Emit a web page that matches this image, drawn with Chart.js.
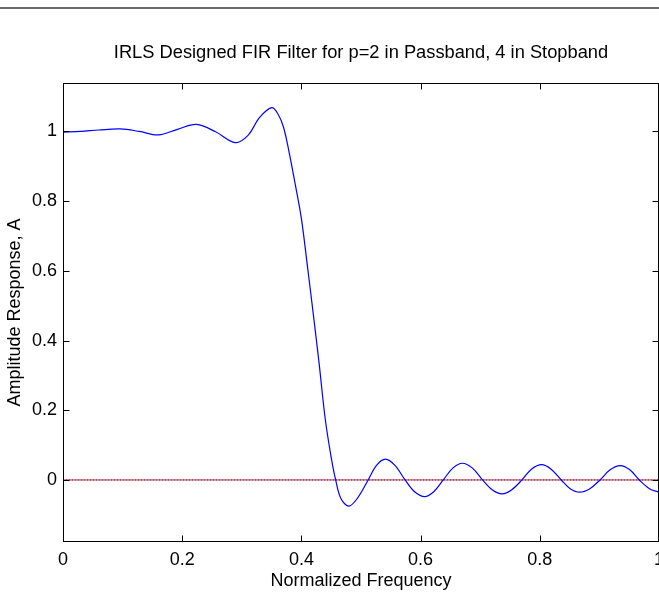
<!DOCTYPE html>
<html>
<head>
<meta charset="utf-8">
<title>IRLS Designed FIR Filter</title>
<script src="https://cdn.jsdelivr.net/npm/chart.js@4/dist/chart.umd.min.js"></script>
<style>
  html, body { margin: 0; padding: 0; background: #fff; overflow: hidden; }
  #wrap { position: relative; width: 659px; height: 592px; overflow: hidden; }
  #plot { position: absolute; left: 0; top: 0; }
  #rule { position: absolute; left: 0; top: 7px; width: 659px; height: 0; border-top: 2px solid #6a6a6a; }
</style>
</head>
<body>
<div id="wrap">
  <canvas id="plot" width="720" height="592"></canvas>
  <div id="rule"></div>
</div>
<script>
/* ------------------------------------------------------------
   Chart data
------------------------------------------------------------ */
var TITLE   = 'IRLS Designed FIR Filter for p=2 in Passband, 4 in Stopband';
var X_TITLE = 'Normalized Frequency';
var Y_TITLE = 'Amplitude Response, A';

// normalized frequency (0..1)
var freq = [
  0.000, 0.030, 0.060, 0.096, 0.128, 0.160, 0.192, 0.224, 0.256, 0.289,
  0.310, 0.330, 0.350, 0.360, 0.370, 0.380, 0.390, 0.400, 0.410, 0.420,
  0.430, 0.440, 0.450, 0.4575, 0.4665, 0.480, 0.495, 0.512, 0.526, 0.541,
  0.557, 0.574, 0.590, 0.607, 0.622, 0.638, 0.654, 0.670, 0.687, 0.704,
  0.720, 0.737, 0.753, 0.770, 0.786, 0.803, 0.819, 0.836, 0.851, 0.867,
  0.884, 0.901, 0.918, 0.935, 0.951, 0.967, 0.984, 1.000
];

// amplitude response A
var amp = [
  0.998, 1.000, 1.004, 1.007, 1.000, 0.990, 1.006, 1.020, 0.999, 0.968,
  0.988, 1.040, 1.068, 1.052, 1.012, 0.935, 0.845, 0.750, 0.615, 0.475,
  0.330, 0.175, 0.065, 0.000, -0.054, -0.075, -0.050, 0.000, 0.042, 0.060,
  0.042, 0.000, -0.034, -0.048, -0.034, 0.000, 0.034, 0.048, 0.034, 0.000,
  -0.028, -0.040, -0.028, 0.000, 0.031, 0.044, 0.031, 0.000, -0.025, -0.035,
  -0.025, 0.000, 0.029, 0.041, 0.029, 0.000, -0.025, -0.035
];

// zero reference line
var zeroFreq = [0, 1];
var zeroAmp  = [0, 0];

// axis ticks
var xTicks = [0, 0.2, 0.4, 0.6, 0.8, 1];
var yTicks = [0, 0.2, 0.4, 0.6, 0.8, 1];
var xTickLabels = ['0', '0.2', '0.4', '0.6', '0.8', '1'];
var yTickLabels = ['0', '0.2', '0.4', '0.6', '0.8', '1'];

var X_MIN = 0, X_MAX = 1;
var Y_MIN = -0.178, Y_MAX = 1.139;


/* ------------------------------------------------------------
   Helpers
------------------------------------------------------------ */
function _pairs(xs, ys) {
  return xs.map(function (x, i) { return { x: x, y: ys[i] }; });
}

var TICK = 6;

// MATLAB style box with tick marks pointing inwards on all four sides
var boxTicks = {
  id: 'boxTicks',
  afterDatasetsDraw: function (chart) {
    var ctx = chart.ctx, a = chart.chartArea;
    var xs = chart.scales.x, ys = chart.scales.y;
    var L = Math.round(a.left) + 0.5, R = Math.round(a.right) - 0.5;
    var T = Math.round(a.top) + 0.5,  B = Math.round(a.bottom) - 0.5;
    ctx.save();
    ctx.strokeStyle = '#000';
    ctx.lineWidth = 1;
    ctx.beginPath();
    xTicks.forEach(function (v) {
      var px = Math.round(xs.getPixelForValue(v)) + 0.5;
      ctx.moveTo(px, B); ctx.lineTo(px, B - TICK);
      ctx.moveTo(px, T); ctx.lineTo(px, T + TICK);
    });
    yTicks.forEach(function (v) {
      var py = Math.round(ys.getPixelForValue(v)) + 0.5;
      ctx.moveTo(L, py); ctx.lineTo(L + TICK, py);
      ctx.moveTo(R, py); ctx.lineTo(R - TICK, py);
    });
    ctx.stroke();
    ctx.strokeRect(L, T, R - L, B - T);
    ctx.restore();
  }
};


/* ------------------------------------------------------------
   Chart
------------------------------------------------------------ */
Chart.defaults.font.family = '"Liberation Sans", Arial, Helvetica, sans-serif';
Chart.defaults.color = '#000';

var FONT = { size: 18, weight: 'normal' };

new Chart(document.getElementById('plot'), {
  type: 'line',
  data: {
    datasets: [
      {
        label: 'A',
        data: _pairs(freq, amp),
        borderColor: '#0000ff',
        borderWidth: 1.2,
        pointRadius: 0,
        fill: false,
        tension: 0.35,
        order: 1
      },
      {
        label: 'zero (red)',
        data: _pairs(zeroFreq, zeroAmp),
        borderColor: '#cc2200',
        borderWidth: 1,
        pointRadius: 0,
        fill: false,
        order: 3
      },
      {
        label: 'zero (blue)',
        data: _pairs(zeroFreq, zeroAmp),
        borderColor: '#3030ff',
        borderWidth: 1,
        borderDash: [1, 2],
        pointRadius: 0,
        fill: false,
        order: 2
      }
    ]
  },
  options: {
    responsive: false,
    animation: false,
    devicePixelRatio: 1,
    layout: { padding: { left: 0, right: 61, top: 0, bottom: 0 } },
    plugins: {
      legend: { display: false },
      tooltip: { enabled: false },
      title: {
        display: true,
        fullSize: false,
        text: TITLE,
        color: '#000',
        font: { size: 18.3, weight: 'normal' },
        padding: { top: 42, bottom: 19 }
      }
    },
    scales: {
      x: {
        type: 'linear',
        min: X_MIN,
        max: X_MAX,
        afterBuildTicks: function (s) { s.ticks = xTicks.map(function (v) { return { value: v }; }); },
        afterFit: function (s) { s.height = 50; },
        ticks: {
          font: FONT,
          padding: 7,
          maxRotation: 0,
          callback: function (v, i) { return xTickLabels[i]; }
        },
        grid: { display: false, drawTicks: false },
        border: { display: false },
        title: {
          display: true,
          text: X_TITLE,
          font: FONT,
          padding: { top: 0, bottom: 0 }
        }
      },
      y: {
        type: 'linear',
        min: Y_MIN,
        max: Y_MAX,
        afterBuildTicks: function (s) { s.ticks = yTicks.map(function (v) { return { value: v }; }); },
        afterFit: function (s) { s.width = 63; },
        ticks: {
          font: FONT,
          padding: 6,
          callback: function (v, i) { return yTickLabels[i]; }
        },
        grid: { display: false, drawTicks: false },
        border: { display: false },
        title: {
          display: true,
          text: Y_TITLE,
          font: FONT,
          padding: { top: 4, bottom: 0 }
        }
      }
    }
  },
  plugins: [boxTicks]
});
</script>
</body>
</html>
